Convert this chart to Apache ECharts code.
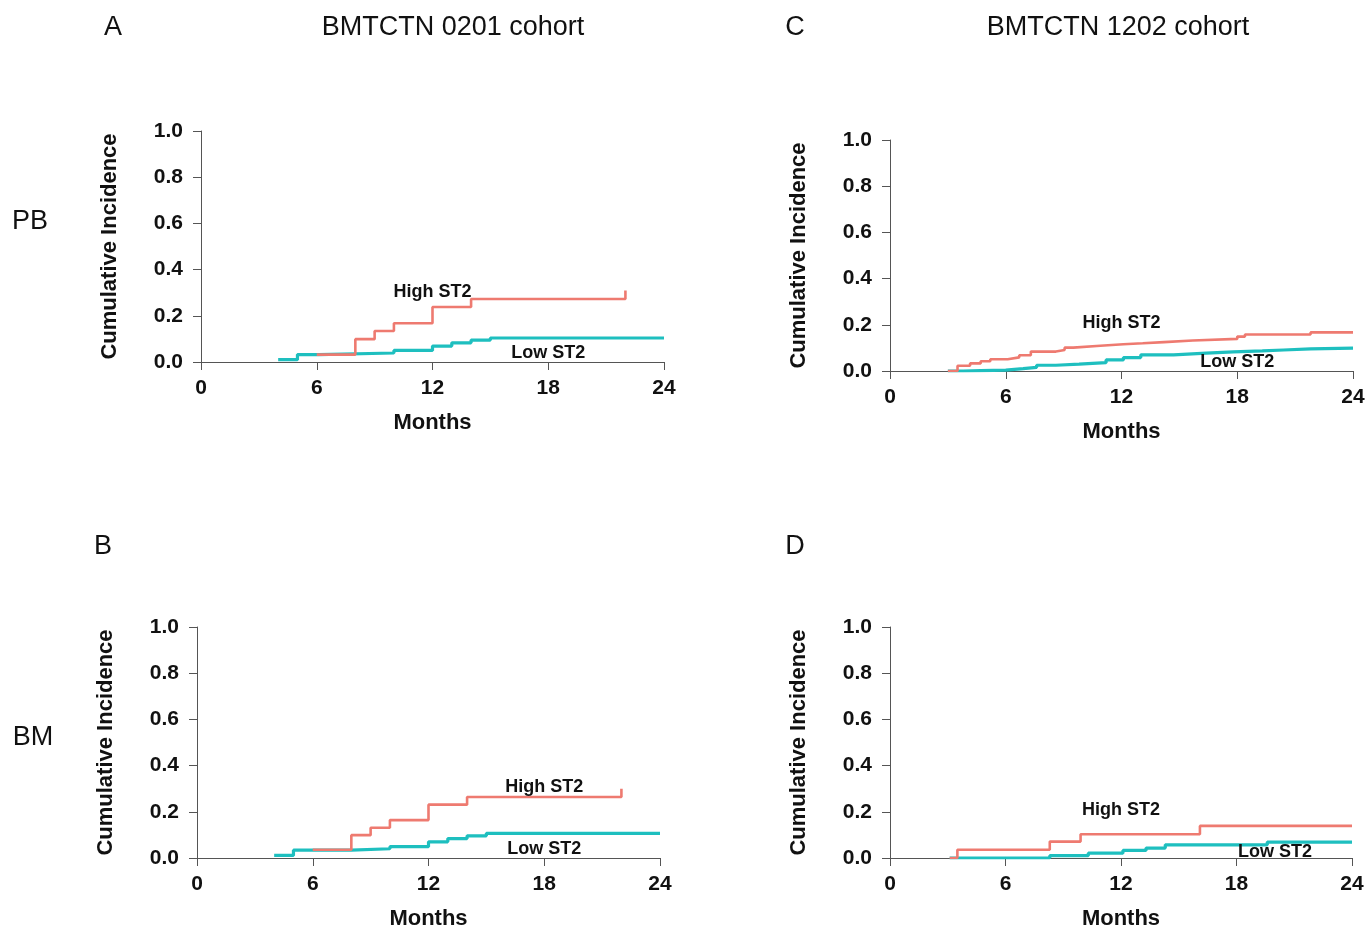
<!DOCTYPE html>
<html><head><meta charset="utf-8">
<script src="https://cdn.jsdelivr.net/npm/echarts@6/dist/echarts.min.js"></script>
<style>html,body{margin:0;padding:0;background:#fff}#c{width:1369px;height:931px}</style>
</head><body><div id="c"></div>
<script>
// ---- tick definitions ----
const monthTicks = [0, 6, 12, 18, 24];
const incTicks = [0, 0.2, 0.4, 0.6, 0.8, 1.0];
const xName = 'Months';
const yName = 'Cumulative Incidence';
const highLabel = 'High ST2';
const lowLabel = 'Low ST2';

// ---- Panel A: BMTCTN 0201, PB  [month, cumulative incidence] ----
const highA = [[6,0.032],[8,0.099],[9,0.134],[10,0.168],[12,0.238],[14,0.273],[22,0.31]];
const lowA  = [[4,0.01],[5,0.032],[6.1,0.039],[10,0.05],[12,0.069],[13,0.083],[14,0.095],[15,0.104],[24,0.104]];
// ---- Panel B: BMTCTN 0201, BM ----
const highB = [[6,0.036],[8,0.099],[9,0.131],[10,0.164],[12,0.231],[14,0.264],[22,0.30]];
const lowB  = [[4,0.011],[5,0.034],[8,0.04],[10,0.049],[12,0.07],[13,0.084],[14,0.096],[15,0.107],[24,0.107]];
// ---- Panel C: BMTCTN 1202, PB ----
const highC = [[3,0],[3.5,0.023],[4.15,0.033],[4.7,0.042],[5.2,0.051],[6.1,0.059],[6.7,0.068],[7.3,0.084],[8.6,0.091],[9.05,0.101],[9.5,0.109],[10.9,0.116],[12.1,0.12],[13.1,0.125],[14.2,0.132],[15.7,0.139],[18,0.149],[18.4,0.158],[21.8,0.167],[24,0.167]];
const lowC  = [[3,0],[3.8,0.002],[4.7,0.004],[6,0.01],[6.9,0.016],[7.6,0.025],[8.6,0.03],[9.8,0.036],[11.2,0.048],[12.1,0.058],[13,0.07],[14.7,0.077],[16.4,0.083],[17.8,0.087],[19.3,0.091],[20.4,0.096],[21.8,0.099],[24,0.099]];
// ---- Panel D: BMTCTN 1202, BM ----
const highD = [[3.1,0],[3.5,0.036],[8.3,0.071],[9.9,0.103],[16.1,0.139],[24,0.139]];
const lowD  = [[3.1,0],[8.3,0.01],[10.3,0.021],[12.1,0.033],[13.3,0.043],[14.3,0.057],[19.6,0.069],[24,0.069]];

const panelLetters = ['A', 'B', 'C', 'D'];
const cohortTitles = ['BMTCTN 0201 cohort', 'BMTCTN 1202 cohort'];
const rowLabels = ['PB', 'BM'];

// ---- layout (not data) ----
const grids = [
  {left: 201, top: 131, width: 463, height: 231},
  {left: 197, top: 627, width: 463, height: 231},
  {left: 890, top: 140, width: 463, height: 231},
  {left: 890, top: 627, width: 462, height: 231}
];
const labelAnchors = [
  {high: [12, 0.303], low: [18, 0.039]},
  {high: [18, 0.307], low: [18, 0.039]},
  {high: [12, 0.208], low: [18, 0.039]},
  {high: [12, 0.208], low: [20, 0.026]}
];
const panels = [[highA, lowA], [highB, lowB], [highC, lowC], [highD, lowD]];

const RED = '#ee7a70', TEAL = '#1ebfbf', AX = '#555', TXT = '#111';
const FONT = '"Liberation Sans", Arial, sans-serif';

const xAxes = [], yAxes = [], series = [];
grids.forEach((g, i) => {
  xAxes.push({
    gridIndex: i, type: 'value', min: monthTicks[0], max: monthTicks[monthTicks.length - 1],
    interval: monthTicks[1] - monthTicks[0],
    axisLine: {show: true, onZero: false, lineStyle: {color: AX, width: 1}},
    axisTick: {show: true, length: 8, lineStyle: {color: AX, width: 1}},
    splitLine: {show: false},
    axisLabel: {fontSize: 21, fontWeight: 'bold', color: TXT, fontFamily: FONT, margin: 16},
    name: xName, nameLocation: 'middle', nameGap: 50,
    nameTextStyle: {fontSize: 22, fontWeight: 'bold', color: TXT, fontFamily: FONT}
  });
  yAxes.push({
    gridIndex: i, type: 'value', min: incTicks[0], max: incTicks[incTicks.length - 1],
    interval: 0.2,
    axisLine: {show: true, onZero: false, lineStyle: {color: AX, width: 1}},
    axisTick: {show: true, length: 8, lineStyle: {color: AX, width: 1}},
    splitLine: {show: false},
    axisLabel: {fontSize: 21, fontWeight: 'bold', color: TXT, fontFamily: FONT, margin: 18,
      formatter: v => v.toFixed(1)},
    name: yName, nameLocation: 'middle', nameGap: 80, nameRotate: 90,
    nameTextStyle: {fontSize: 22, fontWeight: 'bold', color: TXT, fontFamily: FONT}
  });
  const [hi, lo] = panels[i];
  series.push({
    type: 'line', step: 'end', xAxisIndex: i, yAxisIndex: i, data: lo,
    showSymbol: false, symbol: 'none', lineStyle: {color: TEAL, width: 3.2}, z: 2, animation: false
  });
  series.push({
    type: 'line', step: 'end', xAxisIndex: i, yAxisIndex: i, data: hi,
    showSymbol: false, symbol: 'none', lineStyle: {color: RED, width: 2.6}, z: 3, animation: false
  });
});

const chart = echarts.init(document.getElementById('c'), null, {renderer: 'canvas'});
chart.setOption({
  backgroundColor: '#fff', animation: false,
  grid: grids.map(g => Object.assign({containLabel: false}, g)),
  xAxis: xAxes, yAxis: yAxes, series: series
});

function txt(x, y, text, size, weight) {
  return {type: 'text', x: x, y: y, z: 10,
    style: {text: text, fontSize: size, fontWeight: weight || 'normal', fontFamily: FONT,
      fill: TXT, align: 'center', verticalAlign: 'middle'}};
}
const gfx = [
  txt(113, 28, panelLetters[0], 27),
  txt(453, 28, cohortTitles[0], 27),
  txt(795, 28, panelLetters[2], 27),
  txt(1118, 28, cohortTitles[1], 27),
  txt(103, 547, panelLetters[1], 27),
  txt(795, 547, panelLetters[3], 27),
  txt(30, 222, rowLabels[0], 27),
  txt(33, 738, rowLabels[1], 27)
];
labelAnchors.forEach((a, i) => {
  const ph = chart.convertToPixel({gridIndex: i}, a.high);
  const pl = chart.convertToPixel({gridIndex: i}, a.low);
  gfx.push(txt(ph[0], ph[1], highLabel, 18, 'bold'));
  gfx.push(txt(pl[0], pl[1], lowLabel, 18, 'bold'));
});
chart.setOption({graphic: gfx});
</script></body></html>
